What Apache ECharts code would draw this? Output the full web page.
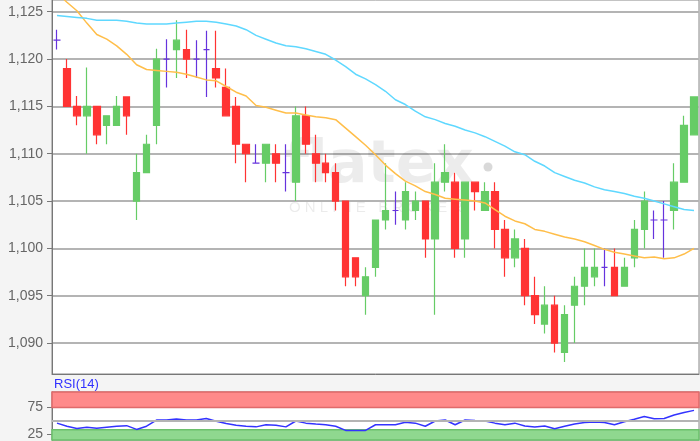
<!DOCTYPE html>
<html><head><meta charset="utf-8">
<script src="https://cdn.jsdelivr.net/npm/echarts@6/dist/echarts.min.js"></script>
<style>html,body{margin:0;padding:0;background:#f4f4f4}#c{width:700px;height:441px}</style>
</head><body><div id="c"></div><script>
const opens  = [1.122,1.119,1.115,1.114,1.115,1.113,1.113,1.116,1.105,1.108,
                1.113,1.120,1.121,1.121,1.120,1.121,1.119,1.117,1.115,1.111,
                1.109,1.109,1.110,1.108,1.107,1.114,1.110,1.109,1.108,1.105,
                1.099,1.095,1.098,1.103,1.104,1.103,1.104,1.105,1.101,1.107,
                1.107,1.101,1.107,1.104,1.106,1.102,1.099,1.100,1.095,1.092,
                1.094,1.089,1.094,1.096,1.097,1.098,1.098,1.096,1.099,1.102,
                1.103,1.103,1.104,1.107,1.112];
const closes = [1.122,1.115,1.114,1.115,1.112,1.114,1.115,1.114,1.108,1.111,
                1.120,1.120,1.122,1.120,1.120,1.121,1.118,1.114,1.111,1.110,
                1.109,1.111,1.109,1.108,1.114,1.111,1.109,1.108,1.105,1.097,
                1.097,1.097,1.103,1.104,1.104,1.106,1.105,1.101,1.107,1.108,
                1.100,1.107,1.106,1.106,1.102,1.099,1.101,1.095,1.093,1.094,
                1.090,1.093,1.096,1.098,1.098,1.098,1.095,1.098,1.102,1.105,
                1.103,1.103,1.107,1.113,1.116];
const lows   = [1.121,1.115,1.113,1.110,1.111,1.111,1.113,1.112,1.103,1.108,
                1.111,1.117,1.118,1.118,1.118,1.116,1.117,1.114,1.109,1.107,
                1.109,1.107,1.107,1.106,1.105,1.110,1.107,1.107,1.104,1.096,
                1.096,1.093,1.097,1.102,1.1025,1.102,1.103,1.099,1.093,1.106,
                1.099,1.099,1.104,1.104,1.100,1.097,1.098,1.094,1.092,1.091,
                1.089,1.088,1.090,1.094,1.096,1.096,1.095,1.096,1.098,1.100,
                1.101,1.099,1.102,1.107,1.112];
const highs  = [1.1231,1.120,1.1161,1.1191,1.115,1.114,1.1161,1.116,1.110,1.112,
                1.1211,1.1221,1.1241,1.1231,1.122,1.123,1.123,1.119,1.116,1.111,
                1.111,1.111,1.111,1.111,1.115,1.115,1.112,1.110,1.109,1.105,
                1.099,1.098,1.103,1.109,1.106,1.107,1.106,1.105,1.109,1.111,
                1.108,1.107,1.107,1.107,1.107,1.103,1.102,1.101,1.097,1.096,
                1.095,1.094,1.097,1.100,1.100,1.100,1.100,1.099,1.103,1.106,
                1.104,1.105,1.109,1.114,1.116];
const maFast = [1.1270,1.1260,1.1251,1.1238,1.1226,1.1221,1.1214,1.1205,1.1194,1.1189,
                1.1188,1.1187,1.1186,1.1184,1.1181,1.1178,1.1177,1.1171,1.1165,1.1161,
                1.1151,1.1149,1.1146,1.1143,1.1143,1.1141,1.1139,1.1138,1.1136,1.1127,
                1.1118,1.1109,1.1099,1.1088,1.1079,1.1071,1.1066,1.1060,1.1057,1.1053,
                1.1052,1.1051,1.1050,1.1048,1.1041,1.1034,1.1029,1.1026,1.1020,1.1018,
                1.1015,1.1012,1.1010,1.1007,1.1003,1.0999,1.0996,1.0994,1.0992,1.0990,
                1.0991,1.0989,1.0990,1.0994,1.1000];
const maSlow = [1.1246,1.1245,1.1244,1.1243,1.1241,1.1241,1.1241,1.1240,1.1238,1.1237,
                1.1237,1.1237,1.1238,1.1239,1.1240,1.1240,1.1239,1.1237,1.1235,1.1231,
                1.1225,1.1221,1.1217,1.1214,1.1213,1.1211,1.1208,1.1205,1.1199,1.1192,
                1.1184,1.1179,1.1173,1.1166,1.1157,1.1152,1.1145,1.1139,1.1136,1.1132,
                1.1129,1.1125,1.1122,1.1118,1.1113,1.1108,1.1102,1.1099,1.1092,1.1087,
                1.1080,1.1076,1.1072,1.1069,1.1065,1.1062,1.1060,1.1058,1.1055,1.1053,
                1.1050,1.1047,1.1044,1.1041,1.1040];
const rsi = [45.4,39.6,35.4,37.8,36.0,37.8,39.6,40.7,33.6,39.6,
             51.2,51.2,53.2,51.2,51.2,54.2,48.9,44.8,41.3,39.6,
             38.4,42.4,41.3,38.4,49.4,45.4,43.7,42.4,39.6,31.7,
             31.8,31.8,42.4,42.4,42.4,47.2,45.4,39.6,49.4,51.2,
             42.4,51.2,50.2,49.4,45.4,42.4,45.4,40.2,38.2,40.2,
             34.8,39.6,43.9,46.8,47.7,46.7,42.4,48.0,52.7,57.7,
             53.6,54.2,60.6,65.3,69.4];
const priceTicks = [1.090,1.095,1.100,1.105,1.110,1.115,1.120,1.125];
const rsiTicks = [25,75];
const rsiOverbought = 75;
const rsiOversold = 33;
const rsiMid = 50;
const categories = opens.map((_, i) => String(i + 1));

const candles = opens.map((o, i) => [o, closes[i], lows[i], highs[i]]);
const FONT = 'Liberation Sans, Arial, sans-serif';
const chart = echarts.init(document.getElementById('c'), null, {renderer: 'canvas'});
const rsiMin = 13.5, rsiMax = 103.9;
chart.setOption({
  animation: false,
  backgroundColor: '#f4f4f4',
  grid: [
    {left: 52, right: 1, top: -1, height: 375, show: true, backgroundColor: '#fff', borderColor: '#888', borderWidth: 1},
    {left: 52, right: 1, top: 392, bottom: -2, show: true, backgroundColor: '#fff', borderColor: '#888', borderWidth: 1}
  ],
  xAxis: [
    {type: 'category', gridIndex: 0, data: categories, boundaryGap: true,
     axisLine: {show: true, lineStyle: {color: '#777', width: 1}}, axisTick: {show: false}, axisLabel: {show: false}, splitLine: {show: false}},
    {type: 'category', gridIndex: 1, data: categories, boundaryGap: true,
     axisLine: {show: false}, axisTick: {show: false}, axisLabel: {show: false}, splitLine: {show: false}}
  ],
  yAxis: [
    {type: 'value', gridIndex: 0, min: 1.08673, max: 1.12624,
     axisLine: {show: true, lineStyle: {color: '#777', width: 1}},
     axisTick: {show: true, length: 5, customValues: priceTicks, lineStyle: {color: '#777'}},
     axisLabel: {customValues: priceTicks, color: '#666', fontSize: 14, fontFamily: FONT, margin: 9,
                 formatter: v => v.toFixed(3).replace('.', ',')},
     splitLine: {show: true, lineStyle: {color: '#b4b4b4', width: 2}}},
    {type: 'value', gridIndex: 1, min: rsiMin, max: rsiMax,
     axisLine: {show: true, lineStyle: {color: '#777', width: 1}},
     axisTick: {show: true, length: 5, customValues: rsiTicks, lineStyle: {color: '#777'}},
     axisLabel: {customValues: rsiTicks, color: '#666', fontSize: 14, fontFamily: FONT, margin: 9},
     splitLine: {show: false}}
  ],
  graphic: [
    {type: 'text', left: 284, top: 137, z: 1, silent: true,
     style: {text: 'flatex', font: 'bold 59px "DejaVu Sans"', fill: 'rgba(0,0,0,0.075)'}},
    {type: 'circle', shape: {cx: 488, cy: 167, r: 4.5}, z: 1, silent: true, style: {fill: 'rgba(0,0,0,0.15)'}},
    {type: 'text', left: 289, top: 200, z: 1, silent: true,
     style: {text: 'O N L I N E   B R O K E R', font: '15px "Liberation Sans"', fill: 'rgba(0,0,0,0.08)'}},
    {type: 'text', left: 54, top: 378, z: 5, silent: true,
     style: {text: 'RSI(14)', font: '13px "Liberation Sans"', fill: '#3030ff'}}
  ],
  series: [
    {type: 'candlestick', xAxisIndex: 0, yAxisIndex: 0, data: candles, barWidth: 7,
     itemStyle: {color: '#66cc66', color0: '#ff3333', borderColor: '#66cc66', borderColor0: '#ff3333',
                 borderColorDoji: '#6633dd', borderWidth: 1.2}},
    {type: 'line', xAxisIndex: 0, yAxisIndex: 0, data: maFast, symbol: 'none', clip: true,
     lineStyle: {color: '#ffbe4a', width: 1.5}},
    {type: 'line', xAxisIndex: 0, yAxisIndex: 0, data: maSlow, symbol: 'none', clip: true,
     lineStyle: {color: '#5fd8ff', width: 1.5}},
    {type: 'line', xAxisIndex: 1, yAxisIndex: 1, data: rsi, symbol: 'none', z: 4,
     lineStyle: {color: '#3333ff', width: 1.5},
     markLine: {silent: true, symbol: 'none', label: {show: false},
                lineStyle: {color: '#b4b4b4', width: 2, type: 'solid'},
                data: [{yAxis: rsiMid}]},
     markArea: {silent: true, data: [
       [{yAxis: rsiOverbought, itemStyle: {color: '#ff8a8a', borderColor: '#e06a6a', borderWidth: 1.5}}, {yAxis: rsiMax}],
       [{yAxis: rsiMin, itemStyle: {color: '#8fd88f', borderColor: '#6cc06c', borderWidth: 1.5}}, {yAxis: rsiOversold}]
     ]}}
  ]
});
</script></body></html>
